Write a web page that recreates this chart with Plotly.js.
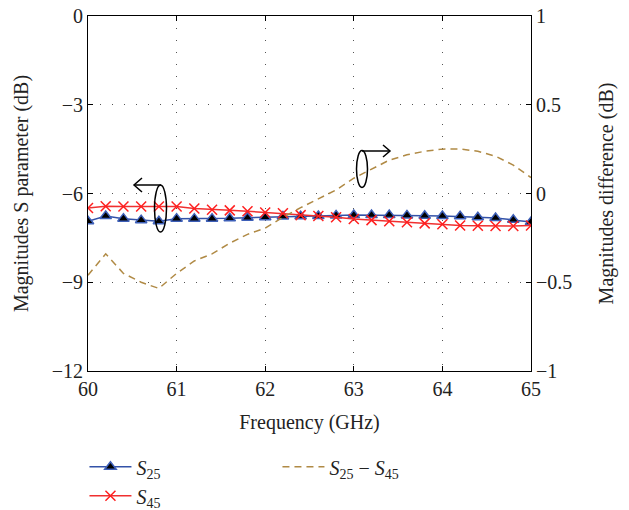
<!DOCTYPE html>
<html>
<head>
<meta charset="utf-8">
<script src="https://cdn.plot.ly/plotly-3.0.1.min.js"></script>
<style>html,body{margin:0;padding:0;background:#fff;}#chart{width:629px;height:510px;}</style>
</head>
<body>
<div id="chart"></div>
<script>
const freq = [60.0,60.2,60.4,60.6,60.8,61.0,61.2,61.4,61.6,61.8,62.0,62.2,62.4,62.6,62.8,63.0,63.2,63.4,63.6,63.8,64.0,64.2,64.4,64.6,64.8,65.0];
const s25 = [-6.94,-6.76,-6.85,-6.90,-6.94,-6.85,-6.85,-6.85,-6.84,-6.82,-6.80,-6.78,-6.77,-6.76,-6.74,-6.73,-6.73,-6.73,-6.74,-6.75,-6.76,-6.77,-6.80,-6.83,-6.89,-6.96];
const s45 = [-6.49,-6.43,-6.44,-6.44,-6.44,-6.44,-6.51,-6.55,-6.57,-6.60,-6.64,-6.67,-6.73,-6.76,-6.80,-6.86,-6.90,-6.94,-6.97,-7.01,-7.04,-7.08,-7.09,-7.10,-7.10,-7.08];
const diff = [-0.46,-0.34,-0.45,-0.50,-0.535,-0.45,-0.38,-0.34,-0.28,-0.23,-0.195,-0.134,-0.08,-0.03,0.02,0.086,0.135,0.188,0.218,0.238,0.25,0.251,0.238,0.21,0.16,0.09];
const leftTicks = [0,-3,-6,-9,-12];
const leftLabels = ['0','\u22123','\u22126','\u22129','\u221212'];
const rightTicks = [1,0.5,0,-0.5,-1];
const rightLabels = ['1','0.5','0','\u22120.5','\u22121'];
const xTicks = [60,61,62,63,64,65];

const FONT = 'Liberation Serif';
const traces = [
  {x:freq, y:s25, name:'<i>S</i><sub>25</sub>', type:'scatter', mode:'lines+markers', legendrank:1,
   line:{color:'#3352a8', width:1.5},
   marker:{symbol:'triangle-up', size:10, color:'#000000', line:{color:'#3d5fb8', width:1.5}}},
  {x:freq, y:diff, name:'<i>S</i><sub>25</sub> \u2212 <i>S</i><sub>45</sub>', type:'scatter', mode:'lines', yaxis:'y2', legendrank:2,
   line:{color:'#b08a45', width:1.5, dash:'7px,5px'}},
  {x:freq, y:s45, name:'<i>S</i><sub>45</sub>', type:'scatter', mode:'lines+markers', legendrank:3,
   line:{color:'#f03030', width:1.5},
   marker:{symbol:'x-thin', size:10, color:'#ff2020', line:{color:'#ff2020', width:1.5}}}
];

const L=88, R=531, T=16, B=371;
function px2x(p){return 60 + (p-L)/(R-L)*5;}
function py2y(p){return -(p-T)/(B-T)*12;}
function ell(cx,cy,w,h){return {type:'circle', xref:'x', yref:'y', x0:px2x(cx-w/2), x1:px2x(cx+w/2), y0:py2y(cy-h/2), y1:py2y(cy+h/2), line:{color:'#000', width:1.5}};}
function pth(pts){let d=''; pts.forEach((p,i)=>{d+=(i?'L':'M')+px2x(p[0])+','+py2y(p[1]);}); return {type:'path', xref:'x', yref:'y', path:d, line:{color:'#000', width:1.5}};}

const shapes = [
  ell(160.5,208.5,12,47),
  pth([[161,185],[134,185]]),
  pth([[142,178],[134,185],[142,192]]),
  ell(362,169,11,37),
  pth([[362,151],[390,151]]),
  pth([[383,145],[390,151],[383,157]])
];

const layout = {
  width:629, height:510,
  margin:{l:L, r:629-R, t:T, b:510-B, autoexpand:false},
  paper_bgcolor:'#fff', plot_bgcolor:'#fff',
  font:{family:FONT, size:20, color:'#222'},
  showlegend:true,
  legend:{orientation:'h', x:-0.008, xanchor:'left', y:-0.215, yanchor:'top', entrywidth:136, entrywidthmode:'pixels',
          font:{family:FONT, size:20, color:'#222'}, tracegroupgap:0, itemwidth:42},
  xaxis:{range:[60,65], tickvals:xTicks, ticktext:xTicks.map(String), ticks:'inside', ticklen:5, tickcolor:'#000',
         showline:true, linecolor:'#000', linewidth:1, mirror:'ticks', zeroline:false,
         showgrid:true, gridcolor:'#555', griddash:'1px,11px', gridwidth:1,
         title:{text:'Frequency (GHz)', font:{family:FONT, size:20}, standoff:15}},
  yaxis:{range:[-12,0], tickvals:leftTicks, ticktext:leftLabels, ticks:'inside', ticklen:5, tickcolor:'#000',
         showline:true, linecolor:'#000', linewidth:1, zeroline:false,
         showgrid:true, gridcolor:'#555', griddash:'1px,11px', gridwidth:1,
         title:{text:'Magnitudes S parameter (dB)', font:{family:FONT, size:20}, standoff:17}},
  yaxis2:{range:[-1,1], overlaying:'y', side:'right', tickvals:rightTicks, ticktext:rightLabels, ticks:'inside', ticklen:5, tickcolor:'#000',
         showline:true, linecolor:'#000', linewidth:1, zeroline:false, showgrid:false,
         title:{text:'Magnitudes difference (dB)', font:{family:FONT, size:20}, standoff:27}},
  shapes:shapes
};
Plotly.newPlot('chart', traces, layout, {displayModeBar:false, staticPlot:true});
</script>
</body>
</html>
